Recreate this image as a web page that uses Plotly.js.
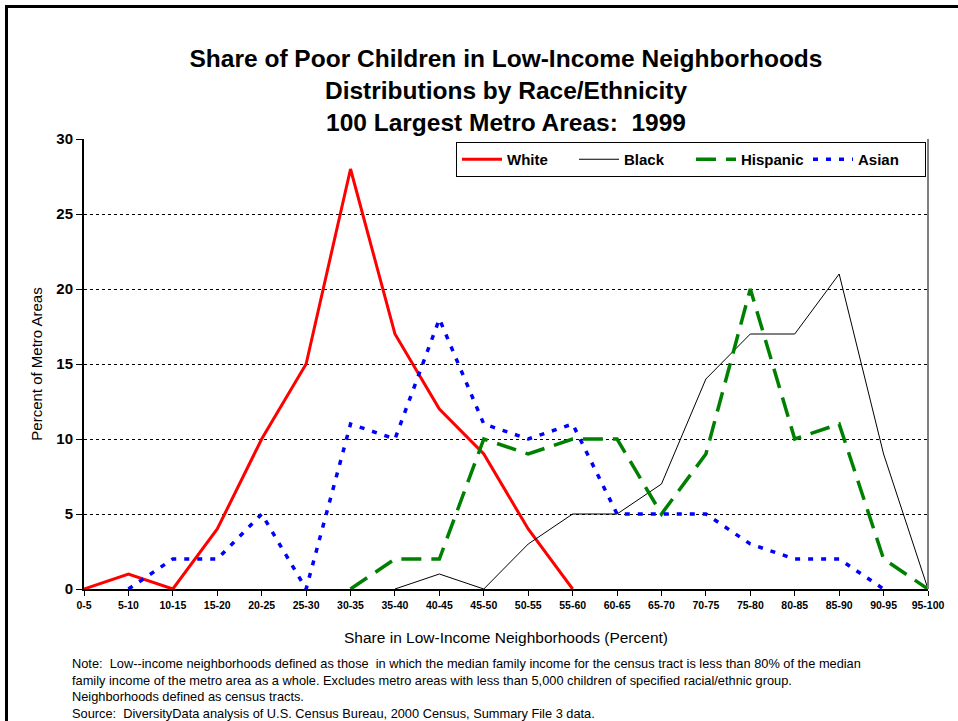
<!DOCTYPE html>
<html>
<head>
<meta charset="utf-8">
<script src="https://cdn.plot.ly/plotly-3.0.1.min.js"></script>
<style>
html,body{margin:0;padding:0;background:#fff;}
#chart{width:958px;height:721px;}
</style>
</head>
<body>
<div id="chart"></div>
<script>
const categories = ["0-5","5-10","10-15","15-20","20-25","25-30","30-35","35-40","40-45","45-50",
  "50-55","55-60","60-65","65-70","70-75","75-80","80-85","85-90","90-95","95-100"];
const white    = [0, 1, 0, 4, 10, 15, 28, 17, 12, 9, 4, 0, null, null, null, null, null, null, null, null];
const black    = [null, null, null, null, null, null, null, 0, 1, 0, 3, 5, 5, 7, 14, 17, 17, 21, 9, 0];
const hispanic = [null, null, null, null, null, null, 0, 2, 2, 10, 9, 10, 10, 5, 9, 20, 10, 11, 2, 0];
const asian    = [null, 0, 2, 2, 5, 0, 11, 10, 18, 11, 10, 11, 5, 5, 5, 3, 2, 2, 0, null];
const yTicks = [0, 5, 10, 15, 20, 25, 30];

const titleText = "Share of Poor Children in Low-Income Neighborhoods<br>Distributions by Race/Ethnicity<br>100 Largest Metro Areas:  1999";
const xTitle = "Share in Low-Income Neighborhoods (Percent)";
const yTitle = "Percent of Metro Areas";
const noteText = "Note:  Low--income neighborhoods defined as those  in which the median family income for the census tract is less than 80% of the median<br>family income of the metro area as a whole. Excludes metro areas with less than 5,000 children of specified racial/ethnic group.<br>Neighborhoods defined as census tracts.<br>Source:  DiversityData analysis of U.S. Census Bureau, 2000 Census, Summary File 3 data.";

const FONT = "Arial, 'Liberation Sans', Helvetica, sans-serif";

const traces = [
  {name: "White", x: categories, y: white, type: "scatter", mode: "lines",
   line: {color: "#FF0000", width: 3}, connectgaps: false},
  {name: "Black", x: categories, y: black, type: "scatter", mode: "lines",
   line: {color: "#000000", width: 1}, connectgaps: false},
  {name: "Hispanic", x: categories, y: hispanic, type: "scatter", mode: "lines",
   line: {color: "#008000", width: 3.5, dash: "20px,10px"}, connectgaps: false},
  {name: "Asian", x: categories, y: asian, type: "scatter", mode: "lines",
   line: {color: "#0000FF", width: 3.5, dash: "5px,8px"}, connectgaps: false}
];

const L = 84, R = 928, T = 139, B = 589;
const px = v => (v - L) / (R - L);
const py = v => (B - v) / (B - T);

const layout = {
  width: 958, height: 721,
  margin: {l: L, r: 958 - R, t: T, b: 721 - B, pad: 0},
  paper_bgcolor: "#fff", plot_bgcolor: "#fff",
  font: {family: FONT, color: "#000"},
  showlegend: true,
  title: {text: titleText, font: {family: FONT, size: 24.5, weight: "bold", color: "#000"},
          x: 0.5, xref: "paper", xanchor: "center", y: 1 - 67 / 721, yref: "container", yanchor: "top"},
  xaxis: {
    type: "category", categoryorder: "array", categoryarray: categories,
    range: [0, categories.length - 1],
    showline: true, linecolor: "#000", linewidth: 2,
    ticks: "outside", ticklen: 5, tickcolor: "#000", tickwidth: 1,
    tickfont: {family: FONT, size: 10.5, weight: "bold"},
    tickangle: 0, showgrid: false, zeroline: false,
    title: {text: xTitle, font: {family: FONT, size: 15.5}, standoff: 23}
  },
  yaxis: {
    range: [0, 30], tickvals: yTicks, ticktext: yTicks.map(String),
    showline: true, linecolor: "#000", linewidth: 2,
    ticks: "outside", ticklen: 6, tickcolor: "#000", tickwidth: 1,
    tickfont: {family: FONT, size: 15, weight: "bold"},
    showgrid: true, gridcolor: "#000", gridwidth: 1, griddash: "dot",
    zeroline: false,
    title: {text: yTitle, font: {family: FONT, size: 15}, standoff: 10}
  },
  legend: {
    orientation: "h", x: px(926), xanchor: "right", y: py(142), yanchor: "top",
    bgcolor: "#fff", bordercolor: "#000", borderwidth: 1,
    font: {family: FONT, size: 15, weight: "bold", color: "#000"},
    entrywidth: 62, entrywidthmode: "pixels", itemwidth: 40
  },
  shapes: [
    {type: "line", xref: "paper", yref: "paper", x0: 1, x1: 1, y0: 0, y1: 1,
     line: {color: "#808080", width: 2}},
    {type: "rect", xref: "paper", yref: "paper", x0: px(6.5), x1: px(1000), y0: py(780), y1: py(6.5),
     line: {color: "#000", width: 3}, fillcolor: "rgba(0,0,0,0)", layer: "below"}
  ],
  annotations: [
    {text: noteText, xref: "paper", yref: "paper", x: px(70), y: py(654), xanchor: "left", yanchor: "top",
     align: "left", showarrow: false, font: {family: FONT, size: 12.8, color: "#000"}}
  ]
};

Plotly.newPlot("chart", traces, layout, {displayModeBar: false, responsive: false, staticPlot: true});
</script>
</body>
</html>
